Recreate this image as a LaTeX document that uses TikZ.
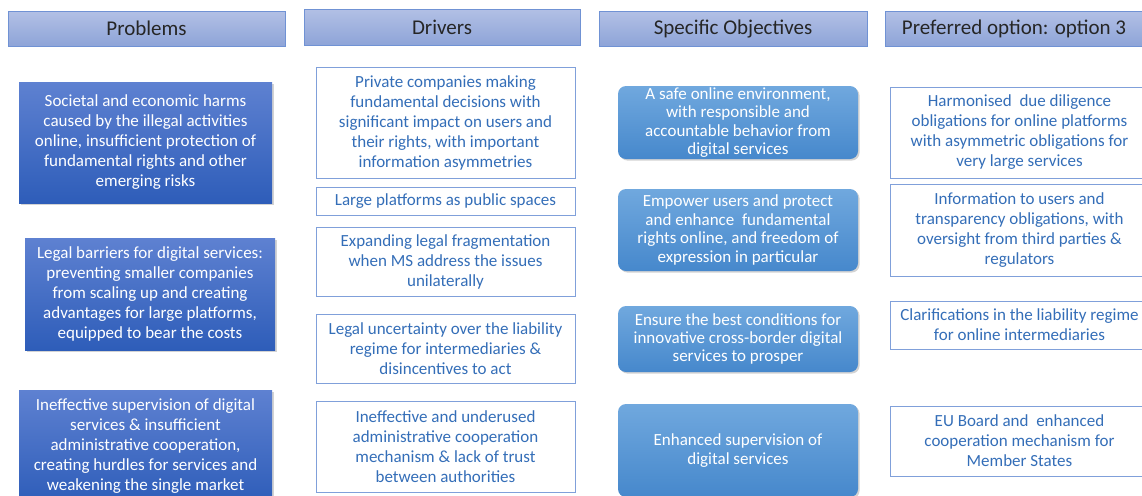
\documentclass[tikz,border=0pt]{standalone}
\usepackage{fontspec}
\setmainfont{Carlito}
\usetikzlibrary{shadows}

\definecolor{headtop}{RGB}{178,192,229}
\definecolor{headbot}{RGB}{142,164,216}
\definecolor{headline}{RGB}{112,146,212}
\definecolor{probtop}{RGB}{94,129,209}
\definecolor{probbot}{RGB}{46,93,185}
\definecolor{objtop}{RGB}{112,168,222}
\definecolor{objbot}{RGB}{70,136,204}
\definecolor{boxline}{RGB}{128,160,218}
\definecolor{boxtext}{RGB}{52,110,184}

\begin{document}
\begin{tikzpicture}[x=0.5pt, y=-0.5pt,
                    head/.style={draw=headline,
                      top color=headtop, bottom color=headbot,
                      text=black!85, inner sep=0pt,
                      minimum height=17.5pt,
                      font=\fontsize{10.5}{12}\selectfont},
                    prob/.style={top color=probtop, bottom color=probbot,
                      text=white, align=center, inner sep=0pt,
                      drop shadow={opacity=.35, shadow xshift=.8pt, shadow yshift=-.8pt},
                      font=\fontsize{8.5}{10}\selectfont},
                    driver/.style={draw=boxline, fill=white,
                      text=boxtext, align=center, inner sep=0pt,
                      minimum width=129.5pt,
                      font=\fontsize{8.5}{10}\selectfont},
                    obj/.style={rounded corners=4pt,
                      top color=objtop, bottom color=objbot,
                      text=white, align=center, inner sep=0pt,
                      minimum width=120pt,
                      drop shadow={opacity=.35, shadow xshift=.8pt, shadow yshift=-.8pt},
                      font=\fontsize{8.5}{9.2}\selectfont}]

  \clip (0,0) rectangle (1142,495);

  % column headers
  \node[head, minimum width=138.5pt] (hprob) at (146.5,28.5) {Problems};
  \node[head, minimum width=138pt, minimum height=18pt] (hdriv) at (442,27) {Drivers};
  \node[head, minimum width=134pt] (hobj) at (733,28.5) {Specific Objectives};
  \node[head, minimum width=129pt] (hopt) at (1014,28.5) {Preferred option: option 3};

  % problems
  \node[prob, minimum width=126.5pt, minimum height=60.5pt] (p1) at (145.5,142.5)
    {Societal and economic harms\\caused by the illegal activities\\online, insufficient protection of\\fundamental rights and other\\emerging risks};
  \node[prob, minimum width=125pt, minimum height=56pt] (p2) at (150,294)
    {Legal barriers for digital services:\\preventing smaller companies\\from scaling up and creating\\advantages for large platforms,\\equipped to bear the costs};
  \node[prob, minimum width=126.5pt, minimum height=56.5pt] (p3) at (145.5,446.5)
    {Ineffective supervision of digital\\services \& insufficient\\administrative cooperation,\\creating hurdles for services and\\weakening the single market};

  % drivers
  \node[driver, minimum height=55.5pt] (d1) at (445.5,122.5)
    {Private companies making\\fundamental decisions with\\significant impact on users and\\their rights, with important\\information asymmetries};
  \node[driver, minimum height=14pt] (d2) at (445.5,201) {Large platforms as public spaces};
  \node[driver, minimum height=34.5pt] (d3) at (445.5,261.5)
    {Expanding legal fragmentation\\when MS address the issues\\unilaterally};
  \node[driver, minimum height=34.5pt] (d4) at (445.5,348.5)
    {Legal uncertainty over the liability\\regime for intermediaries \&\\disincentives to act};
  \node[driver, minimum height=45.5pt] (d5) at (445.5,446.5)
    {Ineffective and underused\\administrative cooperation\\mechanism \& lack of trust\\between authorities};

  % specific objectives
  \node[obj, minimum height=36.5pt] (o1) at (738,122.5)
    {A safe online environment,\\with responsible and\\accountable behavior from\\digital services};
  \node[obj, minimum height=41pt] (o2) at (738,230)
    {Empower users and protect\\and enhance\ \ fundamental\\rights online, and freedom of\\expression in particular};
  \node[obj, minimum height=33pt] (o3) at (738,339)
    {Ensure the best conditions for\\innovative cross-border digital\\services to prosper};
  \node[obj, minimum height=46.5pt] (o4) at (738,450.5)
    {Enhanced supervision of\\digital services};

  % preferred option
  \node[driver, minimum height=45.5pt] (r1) at (1019.5,132.5)
    {Harmonised\ \ due diligence\\obligations for online platforms\\with asymmetric obligations for\\very large services};
  \node[driver, minimum height=46pt] (r2) at (1019.5,230)
    {Information to users and\\transparency obligations, with\\oversight from third parties \&\\regulators};
  \node[driver, minimum height=24pt] (r3) at (1019.5,325)
    {Clarifications in the liability regime\\for online intermediaries};
  \node[driver, minimum height=35pt] (r4) at (1019.5,441)
    {EU Board and\ \ enhanced\\cooperation mechanism for\\Member States};
\end{tikzpicture}
\end{document}
